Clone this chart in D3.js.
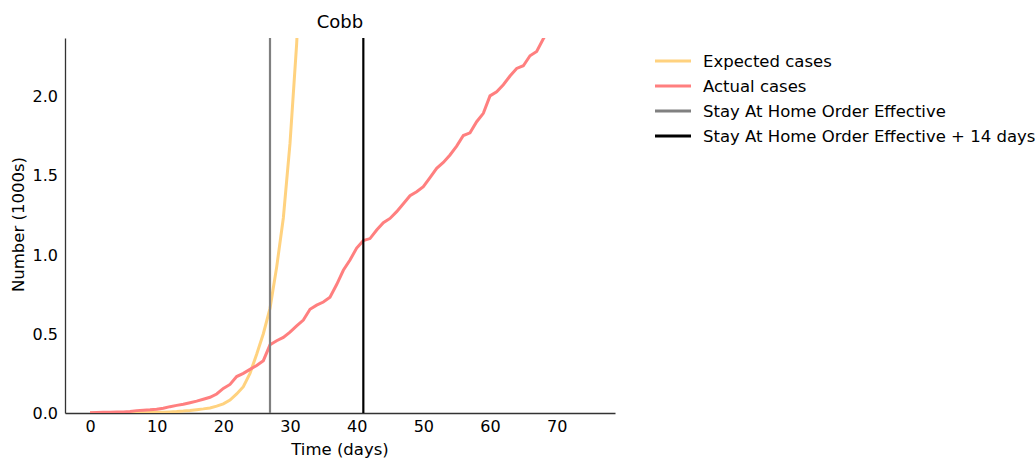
<!DOCTYPE html>
<html>
<head>
<meta charset="utf-8">
<script src="https://cdn.jsdelivr.net/npm/d3@7"></script>
<style>
  body { margin: 0; background: #fff; }
  svg text { font-family: "DejaVu Sans", sans-serif; fill: #000; }
</style>
</head>
<body>
<div id="chart"></div>
<script>
'use strict';

// days since first case
const days = d3.range(0, 70);

// actual cases (1000s)
const actualCases = [
  0.002, 0.003, 0.004, 0.005, 0.006, 0.006, 0.010, 0.015, 0.018, 0.020,
  0.023, 0.030, 0.040, 0.048, 0.055, 0.065, 0.075, 0.087, 0.099, 0.120,
  0.155, 0.180, 0.230, 0.250, 0.275, 0.300, 0.330, 0.430, 0.456, 0.477,
  0.510, 0.550, 0.586, 0.654, 0.680, 0.700, 0.730, 0.810, 0.900, 0.965,
  1.040, 1.087, 1.100, 1.154, 1.200, 1.227, 1.270, 1.320, 1.370, 1.395,
  1.427, 1.484, 1.543, 1.580, 1.627, 1.683, 1.750, 1.767, 1.837, 1.890,
  2.000, 2.026, 2.070, 2.125, 2.173, 2.190, 2.253, 2.280, 2.360, 2.430
];

// expected cases (1000s), visible up to where it leaves the top
const expectedDays = d3.range(0, 33);
const expectedCases = [
  0.000, 0.000, 0.000, 0.001, 0.001, 0.001, 0.001, 0.002, 0.002, 0.003,
  0.004, 0.005, 0.007, 0.009, 0.012, 0.016, 0.021, 0.026, 0.032, 0.043,
  0.058, 0.082, 0.120, 0.166, 0.250, 0.370, 0.500, 0.660, 0.920, 1.230,
  1.700, 2.330, 3.200
];

const stayHomeDay = 27;
const stayHomePlus14 = 41;

const xTicks = [0, 10, 20, 30, 40, 50, 60, 70];
const yTicks = [0.0, 0.5, 1.0, 1.5, 2.0];

const legendLabels = ["Expected cases", "Actual cases", "Stay At Home Order Effective", "Stay At Home Order Effective + 14 days"];
const legendColors = ["#ffd27f", "#ff7f7f", "#808080", "#000000"];

// set the dimensions and margins of the graph
let margin = {top: 38, right: 421, bottom: 48, left: 65},
  width = 1036 - margin.left - margin.right,
  height = 461 - margin.top - margin.bottom;

let svg = d3.select("#chart")
  .append("svg")
    .attr("width", 1036)
    .attr("height", 461)
  .append("g")
    .attr("transform", "translate(" + margin.left + "," + margin.top + ")");

let x = d3.scaleLinear()
  .domain([-3.75, 78.75])
  .range([0, width]);

let y = d3.scaleLinear()
  .domain([0, 2.365])
  .range([height, 0]);

svg.append("defs").append("clipPath")
    .attr("id", "plotclip")
  .append("rect")
    .attr("width", width)
    .attr("height", height);

// axes
let xAxis = svg.append("g")
  .attr("transform", "translate(0," + height + ")")
  .call(d3.axisBottom(x).tickValues(xTicks).tickSize(0).tickPadding(8).tickFormat(d3.format("d")));
let yAxis = svg.append("g")
  .call(d3.axisLeft(y).tickValues(yTicks).tickSize(0).tickPadding(7).tickFormat(d3.format(".1f")));

[xAxis, yAxis].forEach(function(a) {
  a.select(".domain").attr("stroke", "#333").attr("stroke-width", 1.3);
  a.selectAll("text").style("font-size", "16px").attr("fill", "#000");
});
yAxis.selectAll("text").attr("dy", "0.36em");

let plot = svg.append("g").attr("clip-path", "url(#plotclip)");

let line = d3.line()
  .x(function(d) { return x(d[0]); })
  .y(function(d) { return y(d[1]); });

plot.append("path")
  .datum(expectedDays.map(function(d, i) { return [d, expectedCases[i]]; }))
  .attr("d", line)
  .attr("fill", "none")
  .attr("stroke", legendColors[0])
  .attr("stroke-width", 3);

plot.append("path")
  .datum(days.map(function(d, i) { return [d, actualCases[i]]; }))
  .attr("d", line)
  .attr("fill", "none")
  .attr("stroke", legendColors[1])
  .attr("stroke-width", 3);

// stay at home vertical lines
[stayHomeDay, stayHomePlus14].forEach(function(d, i) {
  plot.append("line")
    .attr("x1", x(d)).attr("x2", x(d))
    .attr("y1", 0).attr("y2", height)
    .attr("stroke", legendColors[i + 2])
    .attr("stroke-width", 2.2);
});

// title and labels
svg.append("text")
  .attr("x", width / 2)
  .attr("y", -10)
  .attr("text-anchor", "middle")
  .style("font-size", "18px")
  .text("Cobb");

svg.append("text")
  .attr("x", width / 2)
  .attr("y", height + 42)
  .attr("text-anchor", "middle")
  .style("font-size", "16.5px")
  .text("Time (days)");

svg.append("text")
  .attr("transform", "translate(" + (-41) + "," + (height / 2 - 1) + ") rotate(-90)")
  .attr("text-anchor", "middle")
  .style("font-size", "16.5px")
  .text("Number (1000s)");

// legend
let legend = d3.select("svg").append("g")
  .attr("transform", "translate(655,61)");

legendLabels.forEach(function(lab, i) {
  legend.append("line")
    .attr("x1", 0).attr("x2", 36)
    .attr("y1", i * 25).attr("y2", i * 25)
    .attr("stroke", legendColors[i])
    .attr("stroke-width", 3);
  legend.append("text")
    .attr("x", 48)
    .attr("y", i * 25)
    .attr("dy", "0.35em")
    .style("font-size", "16.5px")
    .text(lab);
});
</script>
</body>
</html>
